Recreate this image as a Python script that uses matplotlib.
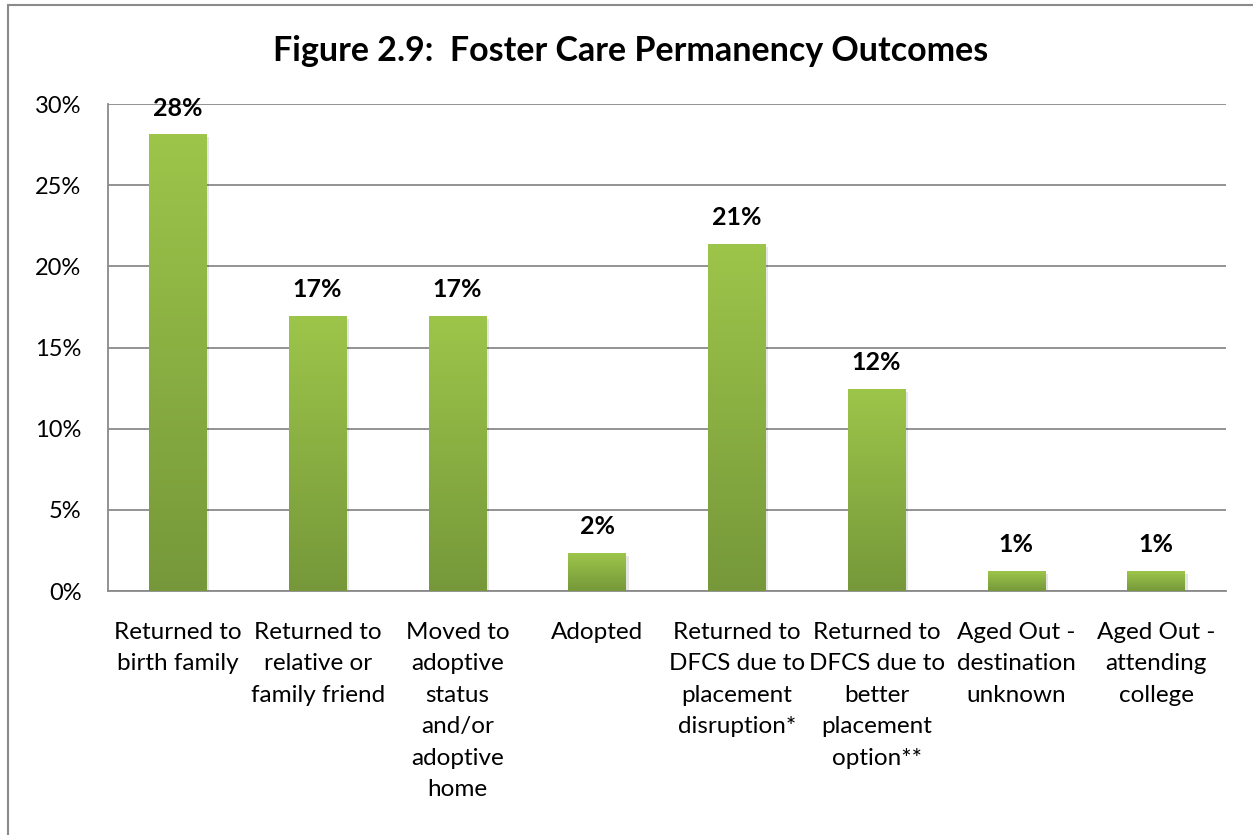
import matplotlib
matplotlib.use("Agg")
import matplotlib.pyplot as plt
import numpy as np
from matplotlib.colors import LinearSegmentedColormap
from matplotlib.patches import Rectangle

categories = [
    "Returned to\nbirth family",
    "Returned to\nrelative or\nfamily friend",
    "Moved to\nadoptive\nstatus\nand/or\nadoptive\nhome",
    "Adopted",
    "Returned to\nDFCS due to\nplacement\ndisruption*",
    "Returned to\nDFCS due to\nbetter\nplacement\noption**",
    "Aged Out -\ndestination\nunknown",
    "Aged Out -\nattending\ncollege",
]
values = [28.1, 16.9, 16.9, 2.3, 21.35, 12.4, 1.2, 1.2]
labels = ["28%", "17%", "17%", "2%", "21%", "12%", "1%", "1%"]
yticks = [0, 5, 10, 15, 20, 25, 30]
title = "Figure 2.9:  Foster Care Permanency Outcomes"

plt.rcParams['font.family'] = ['Lato', 'DejaVu Sans']

W, H = 1253, 835
fig = plt.figure(figsize=(W / 100, H / 100), dpi=100)
ax = fig.add_axes([108 / W, 1 - 591 / H, (1226 - 108) / W, (591 - 104) / H])

# outer border (right/bottom edges fall outside the image)
fig.patches.append(Rectangle((8 / W, -0.1), 1.2, 1 - 5 / H + 0.1, transform=fig.transFigure,
                             fill=False, edgecolor='#8a8a8a', linewidth=1.5))

x = np.arange(len(categories))
cmap = LinearSegmentedColormap.from_list('g', ['#76983a', '#9dc54a'])
bars = ax.bar(x, values, width=0.41, color='none', zorder=3)
grad = np.linspace(0, 1, 256).reshape(-1, 1)
for b in bars:
    x0, y0 = b.get_x(), b.get_y()
    w, h = b.get_width(), b.get_height()
    # soft shadow
    ax.add_patch(Rectangle((x0 + 0.02, y0 - 0.15), w, h, facecolor='#000000', alpha=0.10,
                           edgecolor='none', zorder=2))
    ax.imshow(grad, cmap=cmap, origin='lower', extent=(x0, x0 + w, y0, y0 + h),
              aspect='auto', zorder=3, interpolation='bilinear')

for xi, v, lab in zip(x, values, labels):
    ax.annotate(lab, (xi, v), xytext=(0, 11), textcoords='offset points',
                ha='center', va='bottom', fontsize=18, fontweight='bold', zorder=5)

ax.set_xlim(-0.5, len(categories) - 0.5)
ax.set_ylim(0, 30)
ax.set_yticks(yticks)
ax.set_yticklabels([f"{t}%" for t in yticks], fontsize=17)
ax.set_xticks(x)
ax.set_xticklabels(categories, fontsize=17.5, linespacing=1.62, va='top')
ax.tick_params(axis='both', length=0)
ax.tick_params(axis='x', pad=22)
ax.tick_params(axis='y', pad=19)
ax.yaxis.grid(True, color='#8a8a8a', linewidth=1.3, zorder=0)
ax.set_axisbelow(True)
for s in ['top', 'right']:
    ax.spines[s].set_visible(False)
for s in ['left', 'bottom']:
    ax.spines[s].set_color('#8a8a8a')
    ax.spines[s].set_linewidth(1.3)

fig.text(631 / W, 1 - 51 / H, title, ha='center', va='center', fontsize=24.5, fontweight='bold')

fig.savefig("out.png", dpi=100)
